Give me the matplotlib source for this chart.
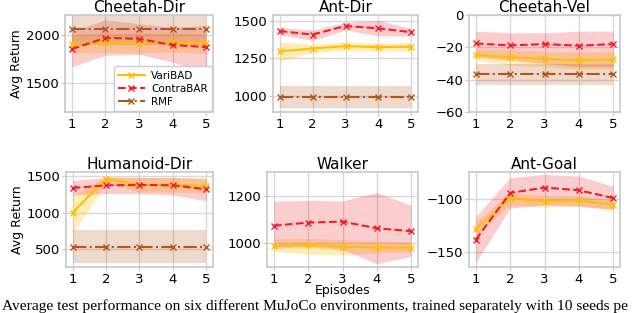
import matplotlib
matplotlib.use('Agg')
import matplotlib.pyplot as plt
import numpy as np

episodes = [1, 2, 3, 4, 5]
titles = ['Cheetah-Dir', 'Ant-Dir', 'Cheetah-Vel', 'Humanoid-Dir', 'Walker', 'Ant-Goal']

# mean, low, high per env
varibad_mean = [[1903, 1924, 1921, 1924, 1914], [1298, 1316, 1333, 1325, 1329],
                [-24.8, -26, -27.3, -28.1, -27.5], [1000, 1464, 1373, 1382, 1364],
                [989, 992, 986, 982, 981], [-128.5, -99.4, -102.5, -101.6, -105.7]]
varibad_lo = [[1810, 1820, 1815, 1820, 1810], [1231, 1290, 1305, 1300, 1300],
              [-28, -31, -32, -33.5, -33.5], [720, 1400, 1280, 1280, 1270],
              [965, 955, 950, 960, 965], [-134, -106, -108, -107, -111]]
varibad_hi = [[2005, 2025, 2020, 2025, 2015], [1360, 1345, 1360, 1350, 1355],
              [-21, -21.5, -22.5, -23, -22.5], [1230, 1500, 1480, 1480, 1480],
              [1020, 1020, 1015, 1010, 1005], [-122, -94, -97, -97, -101]]

contrabar_mean = [[1855, 1972, 1962, 1897, 1876], [1433, 1409, 1467, 1451, 1425],
                  [-17.6, -18.8, -18, -19, -18], [1336, 1373, 1377, 1373, 1318],
                  [1074, 1087, 1091, 1063, 1051], [-138.3, -94.6, -89.6, -92.1, -99.4]]
contrabar_lo = [[1670, 1790, 1800, 1720, 1610], [1410, 1370, 1440, 1400, 1400],
                [-26, -28, -30, -32, -32], [1240, 1260, 1260, 1240, 1160],
                [979, 986, 972, 914, 945], [-159.5, -108.9, -105.8, -107, -110]]
contrabar_hi = [[2040, 2160, 2120, 2080, 2100], [1455, 1440, 1490, 1504, 1450],
                [-10, -11, -11, -10, -10], [1440, 1480, 1480, 1480, 1460],
                [1177, 1181, 1178, 1214, 1159], [-116.8, -80.4, -77.2, -78.8, -88.3]]

# RMF only visible in first four panels
rmf_mean = [2069, 992, -36.8, 530, None, None]
rmf_lo = [1900, 920, -43.5, 305, None, None]
rmf_hi = [2240, 1065, -30.3, 760, None, None]

ylims = [(1200, 2210), (893, 1540), (-60, 0), (255, 1555), (900, 1300), (-164, -75)]
yticks = [[1500, 2000], [1000, 1250, 1500], [-60, -40, -20, 0],
          [500, 1000, 1500], [1000, 1200], [-150, -100]]

c_vari = '#FFBF00'
c_contra = '#F01E28'
c_rmf = '#B5561A'

W, H = 640, 313
# left, right, top, bottom in pixels
boxes = [(65, 213, 15, 112), (273, 418, 15, 112), (469, 620, 15, 112),
         (66, 213, 172, 267), (267, 418, 172, 267), (469, 620, 172, 267)]

fig = plt.figure(figsize=(6.4, 3.13), dpi=100)

for i in range(6):
    l, r, t, b = boxes[i]
    ax = fig.add_axes([l / W, (H - b) / H, (r - l) / W, (b - t) / H])
    ax.fill_between(episodes, varibad_lo[i], varibad_hi[i], color=c_vari, alpha=0.28, lw=0)
    ax.fill_between(episodes, contrabar_lo[i], contrabar_hi[i], color=c_contra, alpha=0.22, lw=0)
    ax.plot(episodes, varibad_mean[i], color=c_vari, lw=1.5, marker='x', ms=4, label='VariBAD')
    ax.plot(episodes, contrabar_mean[i], color=c_contra, lw=1.5, ls='--', marker='x', ms=4,
            label='ContraBAR')
    if rmf_mean[i] is not None:
        ax.fill_between(episodes, [rmf_lo[i]] * 5, [rmf_hi[i]] * 5, color=c_rmf, alpha=0.22, lw=0)
        ax.plot(episodes, [rmf_mean[i]] * 5, color=c_rmf, lw=1.5, ls='-.', marker='x', ms=4,
                label='RMF')
    ax.set_ylim(ylims[i])
    ax.set_yticks(yticks[i])
    ax.set_xticks(episodes)
    ax.set_xlim(0.8, 5.2)
    ax.grid(True, color='#d8d8d8', lw=1)
    ax.set_axisbelow(True)
    for s in ax.spines.values():
        s.set_color('#c8c8c8')
        s.set_linewidth(1.2)
    ax.tick_params(labelsize=9.5, color='#c8c8c8', length=3, pad=1)
    ax.set_title(titles[i], fontsize=11, pad=2)
    if i in (0, 3):
        ax.set_ylabel('Avg Return', fontsize=9, labelpad=2)
    if i == 4:
        ax.set_xlabel('Episodes', fontsize=9, labelpad=-1)
    if i == 0:
        ax.legend(loc='lower right', fontsize=7.5, handlelength=2.6, borderaxespad=0.1,
                  labelspacing=0.3, handletextpad=0.6, borderpad=0.4, framealpha=1)

# caption runs off the right edge in the reference; keep the visible part
fig.text(0.003, 3 / H, 'Average test performance on six different MuJoCo environments, '
         'trained separately with 10 seeds pe',
         family='Liberation Serif', fontsize=11.1, va='baseline', ha='left')

fig.savefig('out.png', dpi=100)
